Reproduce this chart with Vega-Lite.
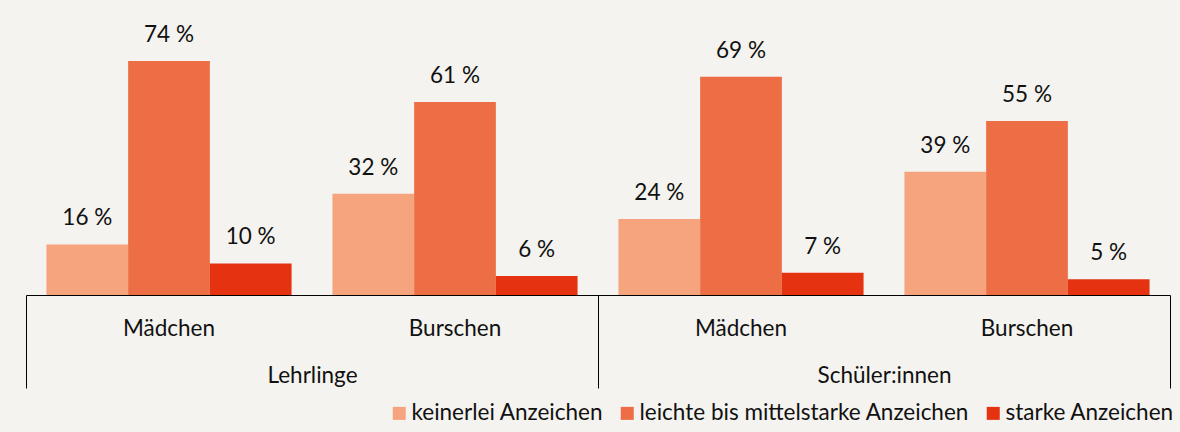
{
  "$schema": "https://vega.github.io/schema/vega-lite/v6.json",
  "width": 1144,
  "height": 253,
  "autosize": {"type": "none"},
  "padding": {"left": 26, "top": 42, "right": 10, "bottom": 137},
  "background": "#f4f3ef",
  "config": {"view": {"stroke": null}, "font": "Lato"},
  "data": {
    "values": [
      {"gruppe": "Lehrlinge", "teil": "Lehrlinge|Mädchen", "kategorie": "keinerlei Anzeichen", "wert": 16},
      {"gruppe": "Lehrlinge", "teil": "Lehrlinge|Mädchen", "kategorie": "leichte bis mittelstarke Anzeichen", "wert": 74},
      {"gruppe": "Lehrlinge", "teil": "Lehrlinge|Mädchen", "kategorie": "starke Anzeichen", "wert": 10},
      {"gruppe": "Lehrlinge", "teil": "Lehrlinge|Burschen", "kategorie": "keinerlei Anzeichen", "wert": 32},
      {"gruppe": "Lehrlinge", "teil": "Lehrlinge|Burschen", "kategorie": "leichte bis mittelstarke Anzeichen", "wert": 61},
      {"gruppe": "Lehrlinge", "teil": "Lehrlinge|Burschen", "kategorie": "starke Anzeichen", "wert": 6},
      {"gruppe": "Schüler:innen", "teil": "Schüler:innen|Mädchen", "kategorie": "keinerlei Anzeichen", "wert": 24},
      {"gruppe": "Schüler:innen", "teil": "Schüler:innen|Mädchen", "kategorie": "leichte bis mittelstarke Anzeichen", "wert": 69},
      {"gruppe": "Schüler:innen", "teil": "Schüler:innen|Mädchen", "kategorie": "starke Anzeichen", "wert": 7},
      {"gruppe": "Schüler:innen", "teil": "Schüler:innen|Burschen", "kategorie": "keinerlei Anzeichen", "wert": 39},
      {"gruppe": "Schüler:innen", "teil": "Schüler:innen|Burschen", "kategorie": "leichte bis mittelstarke Anzeichen", "wert": 55},
      {"gruppe": "Schüler:innen", "teil": "Schüler:innen|Burschen", "kategorie": "starke Anzeichen", "wert": 5}
    ]
  },
  "resolve": {"scale": {"x": "independent"}, "axis": {"x": "independent"}},
  "layer": [
    {
      "encoding": {
        "x": {
          "field": "teil",
          "type": "nominal",
          "sort": ["Lehrlinge|Mädchen", "Lehrlinge|Burschen", "Schüler:innen|Mädchen", "Schüler:innen|Burschen"],
          "scale": {"paddingInner": 0, "paddingOuter": 0},
          "axis": {
            "title": null,
            "orient": "bottom",
            "domain": true,
            "domainColor": "#000000",
            "domainWidth": 1,
            "ticks": false,
            "labelAngle": 0,
            "labelExpr": "split(datum.value, '|')[1]",
            "labelFont": "Lato",
            "labelFontSize": 22.5,
            "labelColor": "#111111",
            "labelPadding": 22
          }
        },
        "xOffset": {
          "field": "kategorie",
          "type": "nominal",
          "sort": ["keinerlei Anzeichen", "leichte bis mittelstarke Anzeichen", "starke Anzeichen"],
          "scale": {"paddingInner": 0, "paddingOuter": 0.25}
        },
        "y": {
          "field": "wert",
          "type": "quantitative",
          "scale": {"domain": [0, 80], "nice": false},
          "axis": null
        }
      },
      "layer": [
        {
          "mark": {"type": "bar"},
          "encoding": {
            "color": {
              "field": "kategorie",
              "type": "nominal",
              "sort": ["keinerlei Anzeichen", "leichte bis mittelstarke Anzeichen", "starke Anzeichen"],
              "scale": {
                "domain": ["keinerlei Anzeichen", "leichte bis mittelstarke Anzeichen", "starke Anzeichen"],
                "range": ["#f5a47e", "#ed6d44", "#e53312"]
              },
              "legend": {
                "title": null,
                "orient": "none",
                "direction": "horizontal",
                "legendX": 362,
                "legendY": 360,
                "padding": 0,
                "symbolType": "square",
                "symbolSize": 169,
                "symbolStrokeWidth": 0,
                "symbolOpacity": 1,
                "labelFont": "Lato",
                "labelFontSize": 22.5,
                "labelColor": "#111111",
                "labelLimit": 600,
                "labelOffset": 1,
                "columnPadding": 12
              }
            }
          }
        },
        {
          "mark": {
            "type": "text",
            "text": {"expr": "datum.wert + ' %'"},
            "font": "Lato",
            "fontSize": 22.5,
            "color": "#111111",
            "baseline": "middle",
            "dy": -26
          }
        }
      ]
    },
    {
      "mark": {"type": "text", "text": ""},
      "encoding": {
        "x": {
          "field": "gruppe",
          "type": "nominal",
          "sort": ["Lehrlinge", "Schüler:innen"],
          "scale": {"paddingInner": 0, "paddingOuter": 0},
          "axis": {
            "title": null,
            "orient": "bottom",
            "domain": false,
            "ticks": true,
            "tickBand": "extent",
            "tickSize": 93,
            "tickColor": "#000000",
            "tickWidth": 1,
            "labelAngle": 0,
            "labelFont": "Lato",
            "labelFontSize": 22.5,
            "labelColor": "#111111",
            "labelPadding": -24
          }
        }
      }
    }
  ]
}
